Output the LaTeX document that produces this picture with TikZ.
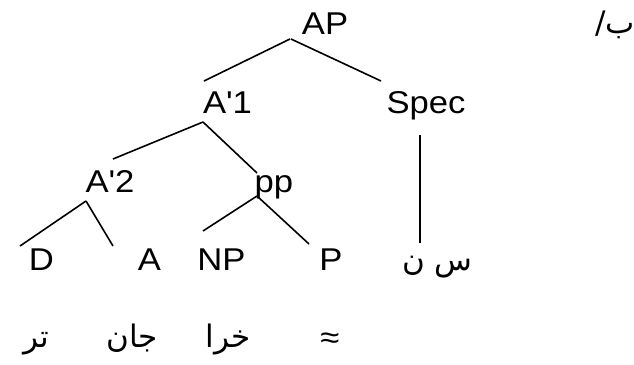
\documentclass[tikz,border=0pt]{standalone}
\usepackage{fontspec}
\usetikzlibrary{calc}
\TeXXeTstate=1
\newfontfamily\lib{Liberation Sans}[FakeStretch=1.1]
\newfontfamily\arabicfont[Script=Arabic]{DejaVu Sans}
\tikzset{
  lbl/.style={anchor=base, inner sep=0pt, font=\lib\fontsize{31.5}{36}\selectfont},
  ar/.style={anchor=base, inner sep=0pt, font=\arabicfont\fontsize{31}{36}\selectfont},
  edge/.style={line width=1.6pt}
}
\begin{document}
\begin{tikzpicture}[x=1pt,y=-1pt]
\useasboundingbox (0,0) rectangle (634,364);
\node[lbl] (AP) at (325,34) {AP};
\node[lbl] (A1) at (227.5,113) {A'1};
\node[lbl] (Spec) at (426,113) {Spec};
\node[lbl] (A2) at (110,192) {A'2};
\node[lbl] (pp) at (274,192) {pp};
\node[lbl] (D) at (41.5,270) {D};
\node[lbl] (A) at (149.5,270) {A};
\node[lbl] (NP) at (221.5,270) {NP};
\node[lbl] (P) at (331,270) {P};
\node[ar] (sn) at (437.5,270) {\beginR س ن\endR};
\node[ar] (ba) at (615,33) {\beginR ب/\endR};
\node[ar] (w1) at (36,347) {\beginR تر\endR};
\node[ar] (w2) at (132,347) {\beginR جان\endR};
\node[ar] (w3) at (228,347) {\beginR خرا\endR};
\node[lbl] (w4) at (330,348) {≈};
\draw[edge] ($(AP.base)+(-35,5)$) -- ($(A1.base)+(-23.5,-32)$);
\draw[edge] ($(AP.base)+(-34,5)$) -- ($(Spec.base)+(-45,-32)$);
\draw[edge] ($(A1.base)+(-24.5,9)$) -- ($(A2.base)+(3,-33)$);
\draw[edge] ($(A1.base)+(-24.5,9)$) -- ($(pp.base)+(-17,-19)$);
\draw[edge] ($(A2.base)+(-24,9)$) -- ($(D.base)+(-21.5,-24)$);
\draw[edge] ($(A2.base)+(-24,9)$) -- ($(A.base)+(-36.5,-24)$);
\draw[edge] ($(pp.base)+(-17,4)$) -- ($(NP.base)+(-18.5,-39)$);
\draw[edge] ($(pp.base)+(-17,4)$) -- ($(P.base)+(-22,-26)$);
\draw[edge] ($(Spec.base)+(-6,22)$) -- ($(sn.base)+(-17.5,-27)$);
\end{tikzpicture}
\end{document}
